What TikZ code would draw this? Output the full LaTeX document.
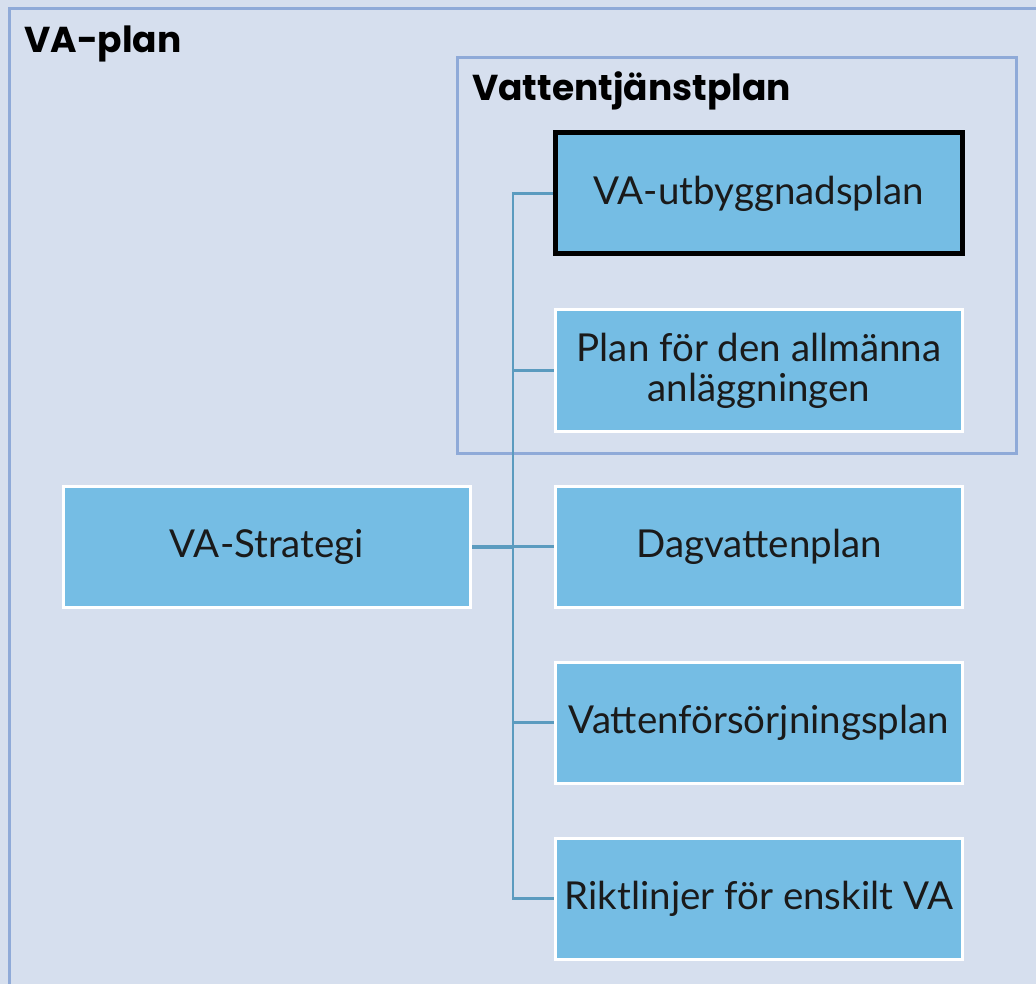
\documentclass[tikz,border=0pt]{standalone}
\usepackage{fontspec}
\setmainfont{Lato}
\newfontfamily\titlefont{Poppins}
\usetikzlibrary{positioning}
\definecolor{vabg}{HTML}{D6DFEE}
\definecolor{vaframe}{HTML}{8FAAD8}
\definecolor{vabox}{HTML}{75BDE4}
\definecolor{valine}{HTML}{5B9BBF}
\definecolor{vatext}{HTML}{1A1A1A}
\tikzset{
  plan/.style = {draw=white, line width=3pt, fill=vabox, minimum width=407pt,
    minimum height=121pt, inner sep=0pt, align=center, text=vatext,
    font=\fontsize{38.5}{40}\selectfont},
  mainplan/.style = {plan, draw=black, line width=5pt},
  frame/.style = {draw=vaframe, line width=3pt},
  title/.style = {anchor=base west, inner sep=0pt, font=\titlefont\bfseries\fontsize{36}{40}\selectfont},
  link/.style = {draw=valine, line width=2.5pt}
}

\begin{document}
\begin{tikzpicture}[x=1pt, y=-1pt, node distance=52pt]
\useasboundingbox [fill=vabg] (0,0) rectangle (1036,984);
% frames
\draw [frame] (9,9) rectangle (1050,1000);
\node [title] (vaplan) at (24,53) {VA-plan};
\draw [frame] (457,58) rectangle (1016,453);
\node [title] (tjanst) at (472,101) {Vattentjänstplan};
% boxes
\node [mainplan] (utbyggnad) at (759,193.5) {VA-utbyggnadsplan};
\node [plan, below=of utbyggnad] (anlaggning) {Plan för den allmänna\\anläggningen};
\node [plan, below=of anlaggning] (dagvatten) {Dagvattenplan};
\node [plan, below=of dagvatten] (forsorjning) {Vattenförsörjningsplan};
\node [plan, below=of forsorjning] (riktlinjer) {Riktlinjer för enskilt VA};
\node [plan, left=82pt of dagvatten] (strategi) {VA-Strategi};
% connectors
\coordinate (bus) at (513,0);
\draw [link] (utbyggnad.west) -- (utbyggnad.west -| bus) -- (riktlinjer.west -| bus) -- (riktlinjer.west);
\foreach \n in {anlaggning, dagvatten, forsorjning}
  \draw [link] (\n.west -| bus) -- (\n.west);
\draw [link, line width=4pt] (strategi.east) -- (strategi.east -| bus);
\end{tikzpicture}
\end{document}
